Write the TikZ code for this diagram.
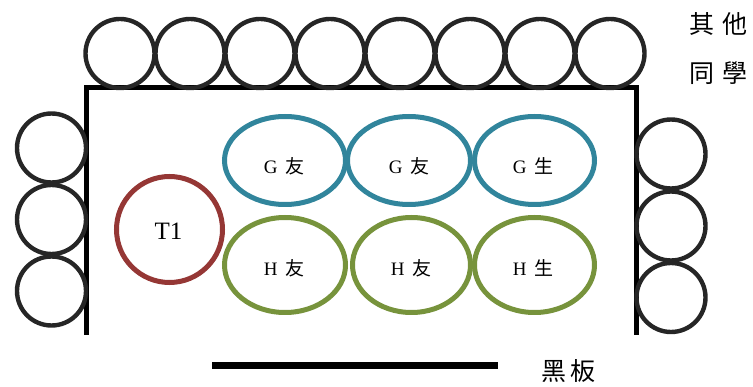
\documentclass[tikz,border=0pt]{standalone}
\usepackage{fontspec}
\setmainfont{Liberation Serif}
\newfontfamily\cjk{Noto Sans CJK TC}
\usetikzlibrary{shapes.geometric}
\definecolor{seatgray}{HTML}{262626}
\definecolor{gteal}{HTML}{31859C}
\definecolor{hgreen}{HTML}{77933C}
\definecolor{tred}{HTML}{953735}
\begin{document}
\begin{tikzpicture}[x=1pt,y=-1pt,
  seat/.style={circle,draw=seatgray,line width=4.4pt,minimum size=69pt,inner sep=0pt},
  gseat/.style={ellipse,draw=gteal,line width=5pt,inner sep=0pt,minimum width=121pt,minimum height=88pt},
  hseat/.style={ellipse,draw=hgreen,line width=5pt,inner sep=0pt,minimum width=120pt,minimum height=95pt},
  teacher/.style={circle,draw=tred,line width=5pt,inner sep=0pt,minimum size=106pt},
  seatlbl/.style={inner sep=0pt,font=\fontsize{19}{19}\selectfont},
  wall/.style={line width=5pt,line join=miter},
  board/.style={line width=6.5pt},
  lbl/.style={inner sep=0pt,font=\cjk\fontsize{25}{25}\selectfont}]
\useasboundingbox (0,0) rectangle (753,387);
% room walls
\coordinate (wl) at (86,335);
\coordinate (wtl) at (86,88);
\coordinate (wtr) at (636,88);
\coordinate (wr) at (636,335);
\draw[wall] (wl) -- (wtl) -- (wtr) -- (wr);
% top seats
\foreach \i in {0,...,7}{
  \node[seat] (top\i) at (120+70*\i,53.5) {};
}
% left seats
\node[seat] (left1) at (51.5,148) {};
\node[seat] (left2) at (51.5,219.5) {};
\node[seat] (left3) at (51.5,291) {};
% right seats
\node[seat] (right1) at (671,154) {};
\node[seat] (right2) at (671,226) {};
\node[seat] (right3) at (671,297.5) {};
% teacher
\node[teacher] (t1) at (169.5,229.5) {};
\node[inner sep=0pt,font=\fontsize{25}{25}\selectfont] (t1l) at (168.5,231) {T1};
% G row
\node[gseat] (g1) at (285,160.5) {};
\node[gseat,minimum width=123pt] (g2) at (409,160.5) {};
\node[gseat,minimum width=120pt] (g3) at (534.5,160.5) {};
\node[seatlbl] (g1l) at (284,166) {G\hspace{3pt} {\cjk 友}};
\node[seatlbl] (g2l) at (409,166) {G\hspace{3pt} {\cjk 友}};
\node[seatlbl] (g3l) at (533,166) {G\hspace{3pt} {\cjk 生}};
% H row
\node[hseat,minimum width=121pt] (h1) at (285,265) {};
\node[hseat,minimum width=118pt] (h2) at (411.5,265) {};
\node[hseat] (h3) at (534.5,265) {};
\node[seatlbl] (h1l) at (284,268) {H\hspace{3pt} {\cjk 友}};
\node[seatlbl] (h2l) at (411,268) {H\hspace{3pt} {\cjk 友}};
\node[seatlbl] (h3l) at (533,268) {H\hspace{3pt} {\cjk 生}};
% blackboard
\coordinate (b1) at (212,365.5);
\coordinate (b2) at (498,365.5);
\draw[board] (b1) -- (b2);
\node[lbl] (boardl) at (568.5,371) {黑\hspace{4pt}板};
% other classmates
\node[lbl] (oth1) at (718,24) {其\hspace{8pt}他};
\node[lbl] (oth2) at (718,73) {同\hspace{8pt}學};
\end{tikzpicture}
\end{document}
